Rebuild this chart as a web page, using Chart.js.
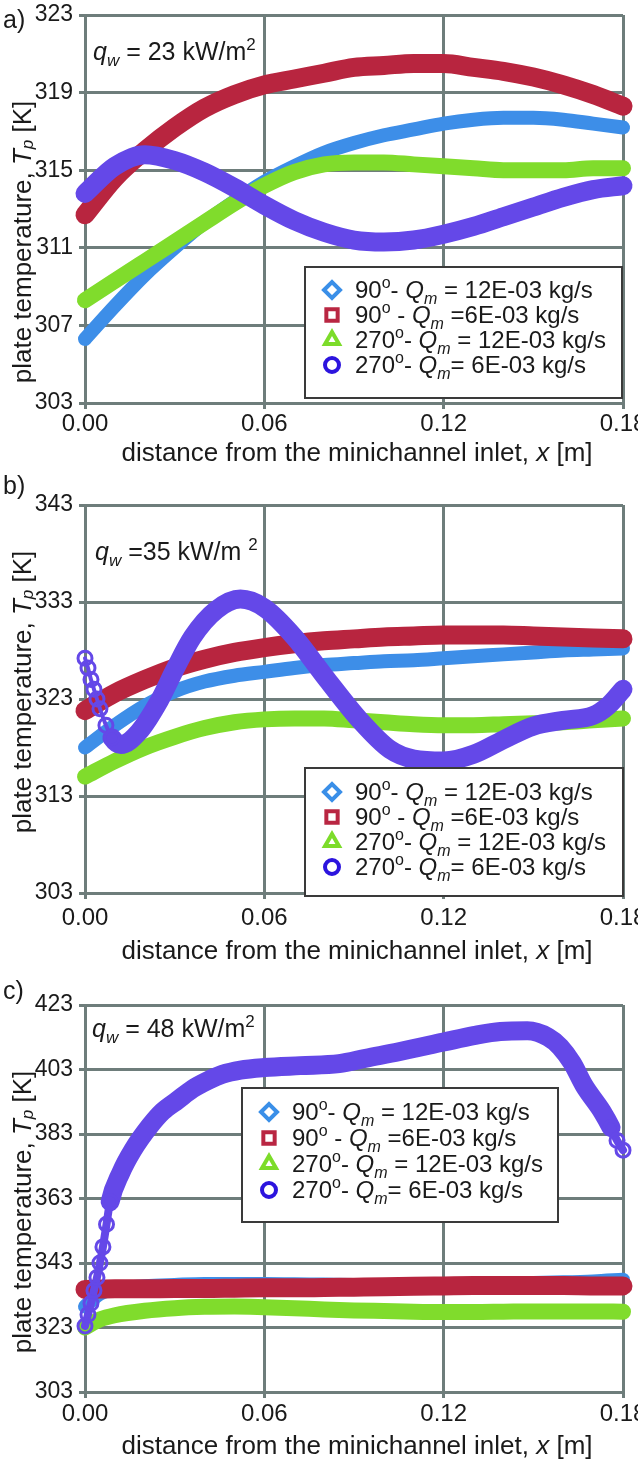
<!DOCTYPE html>
<html>
<head>
<meta charset="utf-8">
<script src="https://cdn.jsdelivr.net/npm/chart.js@4.4.1/dist/chart.umd.min.js"></script>
<style>
body { margin: 0; background: #fff; }
#wrap { position: relative; width: 638px; height: 1460px; }
canvas { position: absolute; left: 0; }
</style>
</head>
<body>
<div id="wrap">
  <canvas id="chartA" width="638" height="470" style="top:0px"></canvas>
  <canvas id="chartB" width="638" height="505" style="top:470px"></canvas>
  <canvas id="chartC" width="638" height="485" style="top:975px"></canvas>
</div>
<script>
// ---- data ----
const xTicks = [0, 0.06, 0.12, 0.18];
const yTicksA = [303, 307, 311, 315, 319, 323];
const yTicksB = [303, 313, 323, 333, 343];
const yTicksC = [303, 323, 343, 363, 383, 403, 423];

// a) qw = 23 kW/m2
const xA = [0, 0.01, 0.02, 0.03, 0.04, 0.05, 0.06, 0.07, 0.08, 0.09, 0.10, 0.11, 0.12, 0.13, 0.14, 0.15, 0.16, 0.17, 0.18];
const aBlue   = [306.3, 308.0, 309.6, 311.0, 312.3, 313.4, 314.4, 315.2, 315.9, 316.4, 316.8, 317.1, 317.4, 317.6, 317.7, 317.7, 317.6, 317.4, 317.2];
const aRed    = [312.7, 314.6, 316.0, 317.2, 318.2, 318.9, 319.4, 319.7, 320.0, 320.3, 320.4, 320.5, 320.5, 320.3, 320.1, 319.8, 319.4, 318.9, 318.3];
const aGreen  = [308.3, 309.3, 310.3, 311.3, 312.3, 313.3, 314.2, 314.9, 315.3, 315.4, 315.4, 315.3, 315.2, 315.1, 315.0, 315.0, 315.0, 315.1, 315.1];
const aPurple = [313.8, 315.2, 315.8, 315.5, 314.9, 314.1, 313.2, 312.4, 311.8, 311.4, 311.3, 311.4, 311.7, 312.1, 312.6, 313.1, 313.6, 314.0, 314.2];

// b) qw = 35 kW/m2
const xB = [0, 0.01, 0.02, 0.03, 0.04, 0.05, 0.06, 0.07, 0.08, 0.09, 0.10, 0.11, 0.12, 0.13, 0.14, 0.15, 0.16, 0.17, 0.18];
const bBlue  = [318.0, 320.3, 322.3, 323.8, 324.8, 325.4, 325.8, 326.2, 326.5, 326.7, 326.9, 327.0, 327.2, 327.4, 327.6, 327.8, 328.0, 328.1, 328.2];
const bRed   = [321.8, 323.6, 325.0, 326.2, 327.1, 327.8, 328.3, 328.7, 329.0, 329.2, 329.4, 329.5, 329.6, 329.6, 329.6, 329.5, 329.4, 329.3, 329.2];
const bGreen = [315.0, 316.6, 318.0, 319.1, 320.0, 320.6, 320.9, 321.0, 321.0, 320.8, 320.6, 320.4, 320.3, 320.3, 320.4, 320.5, 320.6, 320.8, 321.0];
const xBPurple = [0, 0.001, 0.002, 0.003, 0.004, 0.005, 0.007, 0.009, 0.012, 0.018, 0.025, 0.03, 0.036, 0.044, 0.052, 0.06, 0.07, 0.081, 0.092, 0.102, 0.11, 0.12, 0.13, 0.14, 0.15, 0.16, 0.17, 0.175, 0.18];
const bPurple  = [327.2, 326.2, 325.0, 324.0, 323.0, 322.0, 320.3, 319.0, 318.3, 319.6, 322.9, 326.0, 329.4, 332.2, 333.3, 332.4, 329.4, 325.0, 320.8, 317.8, 316.8, 316.6, 317.3, 318.8, 320.2, 320.8, 321.3, 322.3, 324.0];

// c) qw = 48 kW/m2
const xC = [0, 0.005, 0.01, 0.02, 0.03, 0.04, 0.05, 0.06, 0.07, 0.08, 0.09, 0.10, 0.11, 0.12, 0.13, 0.14, 0.15, 0.16, 0.17, 0.18];
const cBlue  = [329.5, 333.5, 335.0, 335.8, 336.2, 336.5, 336.5, 336.5, 336.4, 336.3, 336.2, 336.0, 336.0, 336.2, 336.4, 336.6, 336.8, 337.0, 337.3, 337.8];
const cRed   = [334.8, 334.9, 335.0, 335.0, 335.1, 335.1, 335.2, 335.3, 335.3, 335.4, 335.5, 335.6, 335.8, 335.9, 336.0, 336.0, 336.0, 336.0, 335.9, 335.9];
const cGreen = [323.0, 325.5, 326.8, 328.2, 329.0, 329.4, 329.5, 329.3, 329.0, 328.6, 328.3, 328.1, 327.9, 327.8, 327.8, 327.9, 328.0, 328.0, 328.0, 327.9];
const xCPurple = [0, 0.001, 0.002, 0.003, 0.004, 0.005, 0.006, 0.0072, 0.0084, 0.012, 0.016, 0.0217, 0.026, 0.031, 0.036, 0.041, 0.046, 0.052, 0.06, 0.072, 0.085, 0.094, 0.105, 0.12, 0.13, 0.139, 0.148, 0.155, 0.159, 0.163, 0.167, 0.173, 0.176, 0.178, 0.18];
const cPurple  = [323.5, 327.0, 330.5, 334.5, 338.5, 343.0, 348.0, 355.0, 362.0, 371.0, 378.0, 385.5, 390.0, 393.5, 397.0, 399.5, 401.5, 402.8, 403.6, 404.2, 404.8, 406.5, 408.5, 411.5, 413.5, 414.8, 415.0, 413.0, 410.0, 405.0, 398.0, 390.0, 385.0, 381.0, 378.0];

// legend texts (rich parts: it = italic, sub/sup)
const legendLabels = [
  [{t: '90'}, {t: 'o', sup: true}, {t: '- '}, {t: 'Q', it: true}, {t: 'm', it: true, sub: true}, {t: ' = 12E-03 kg/s'}],
  [{t: '90'}, {t: 'o', sup: true}, {t: ' - '}, {t: 'Q', it: true}, {t: 'm', it: true, sub: true}, {t: ' =6E-03 kg/s'}],
  [{t: '270'}, {t: 'o', sup: true}, {t: '- '}, {t: 'Q', it: true}, {t: 'm', it: true, sub: true}, {t: ' = 12E-03 kg/s'}],
  [{t: '270'}, {t: 'o', sup: true}, {t: '- '}, {t: 'Q', it: true}, {t: 'm', it: true, sub: true}, {t: '= 6E-03 kg/s'}]
];
const notes = [
  [{t: 'q', it: true}, {t: 'w', it: true, sub: true}, {t: ' = 23 kW/m'}, {t: '2', sup: true}],
  [{t: 'q', it: true}, {t: 'w', it: true, sub: true}, {t: ' =35 kW/m '}, {t: '2', sup: true}],
  [{t: 'q', it: true}, {t: 'w', it: true, sub: true}, {t: ' = 48 kW/m'}, {t: '2', sup: true}]
];
const xTitle = [{t: 'distance from the minichannel inlet, '}, {t: 'x', it: true}, {t: ' [m]'}];
const yTitle = [{t: 'plate temperature, '}, {t: 'T', it: true}, {t: 'p', it: true, sub: true}, {t: ' [K]'}];

// ---- styling ----
const lineColors = ['#3d8ee8', '#b8253f', '#80dc2c', '#6448e8'];
const markColors = ['#3a8fe8', '#b92642', '#7cdc2a', '#2c14de'];
const markStyles = ['rectRot', 'rect', 'triangle', 'circle'];
const lineWidths = [14, 19, 16, 19];
const gridColor = '#6e7d7b';
const FONT = '"Liberation Sans", Arial, sans-serif';

function partFont(p, size) {
  const s = (p.sub || p.sup) ? Math.round(size * 0.66) : size;
  return (p.it ? 'italic ' : '') + s + 'px ' + FONT;
}
function richWidth(ctx, parts, size) {
  let w = 0;
  parts.forEach(p => { ctx.font = partFont(p, size); w += ctx.measureText(p.t).width; });
  return w;
}
function drawRich(ctx, parts, x, y, size, center, subDy) {
  let cx = center ? x - richWidth(ctx, parts, size) / 2 : x;
  ctx.textBaseline = 'alphabetic';
  ctx.textAlign = 'left';
  parts.forEach(p => {
    ctx.font = partFont(p, size);
    const dy = p.sub ? size * (subDy || 0.25) : (p.sup ? -size * 0.42 : 0);
    ctx.fillText(p.t, cx, y + dy);
    cx += ctx.measureText(p.t).width;
  });
}

const decor = {
  id: 'decor',
  afterDatasetsDraw(chart, args, o) {
    const ctx = chart.ctx;
    ctx.save();
    ctx.fillStyle = '#1a1a1a';
    // panel letter
    ctx.font = '25px ' + FONT;
    ctx.textBaseline = 'alphabetic';
    ctx.fillText(o.letter, 3, o.letterY);
    // heat flux note
    drawRich(ctx, o.note, o.noteX, o.noteY, 25, false);
    // axis titles
    drawRich(ctx, xTitle, 357, o.xTitleY, 26, true);
    ctx.save();
    ctx.translate(31, o.yTitleY);
    ctx.rotate(-Math.PI / 2);
    drawRich(ctx, yTitle, 0, 0, 26, true, 0.08);
    ctx.restore();
    // legend box
    const L = o.legend;
    ctx.fillStyle = '#fff';
    ctx.fillRect(L.x, L.y, L.w, L.h);
    ctx.strokeStyle = '#3a3a3a';
    ctx.lineWidth = 2;
    ctx.strokeRect(L.x, L.y, L.w, L.h);
    legendLabels.forEach((parts, i) => {
      const cy = L.y + L.first + i * L.step;
      ctx.strokeStyle = markColors[i];
      ctx.fillStyle = '#fff';
      ctx.lineWidth = 4;
      Chart.helpers.drawPoint(ctx, {pointStyle: markStyles[i], radius: i === 3 ? 7 : 8, rotation: 0, borderWidth: 4}, L.x + 27, cy);
      ctx.fillStyle = '#1a1a1a';
      drawRich(ctx, parts, L.x + 50, cy + 8, 24, false);
    });
    ctx.restore();
  }
};

function makeSeries(xs, ys, i, pts, thin) {
  return {
    data: xs.map((x, j) => ({x: x, y: ys[j]})),
    borderColor: lineColors[i],
    backgroundColor: '#fff',
    borderWidth: lineWidths[i],
    borderCapStyle: 'round',
    borderJoinStyle: 'round',
    cubicInterpolationMode: 'monotone',
    pointRadius: pts ? (c => pts.includes(c.dataIndex) ? 7 : 0) : 0,
    pointBorderWidth: 3,
    pointBorderColor: lineColors[i],
    pointBackgroundColor: 'rgba(255,255,255,0)',
    segment: pts ? {borderWidth: c => (pts.includes(c.p0DataIndex) && pts.includes(c.p1DataIndex)) ? thin : lineWidths[i]} : undefined,
    order: [4, 3, 2, 1][i],
    clip: false
  };
}

function makeChart(id, datasets, yTicks, p) {
  new Chart(document.getElementById(id), {
    type: 'line',
    data: {datasets: datasets},
    plugins: [decor],
    options: {
      responsive: false,
      animation: false,
      events: [],
      layout: {padding: {top: p.top, right: 15, left: 0, bottom: 0}},
      plugins: {legend: {display: false}, tooltip: {enabled: false}, decor: p.decor},
      scales: {
        x: {
          type: 'linear', min: 0, max: 0.18,
          afterBuildTicks: s => { s.ticks = xTicks.map(v => ({value: v})); },
          afterFit: s => { s.height = p.xh; s.paddingLeft = 0; s.paddingRight = 0; },
          ticks: {callback: v => v.toFixed(2), color: '#1a1a1a', font: {family: FONT, size: 24}, padding: p.tp, maxRotation: 0},
          grid: {color: gridColor, lineWidth: 3, tickLength: 6},
          border: {color: gridColor, width: 3}
        },
        y: {
          type: 'linear', min: yTicks[0], max: yTicks[yTicks.length - 1],
          afterBuildTicks: s => { s.ticks = yTicks.map(v => ({value: v})); },
          afterFit: s => { s.width = 85; s.paddingTop = 0; s.paddingBottom = 0; },
          ticks: {callback: v => String(v), color: '#1a1a1a', font: {family: FONT, size: 23}, padding: 6},
          grid: {color: gridColor, lineWidth: 3, tickLength: 6},
          border: {color: gridColor, width: 3}
        }
      }
    }
  });
}

makeChart('chartA', [
  makeSeries(xA, aBlue, 0), makeSeries(xA, aRed, 1), makeSeries(xA, aGreen, 2), makeSeries(xA, aPurple, 3)
], yTicksA, {top: 15, xh: 67, tp: 1, decor: {
  letter: 'a)', letterY: 28, note: notes[0], noteX: 93, noteY: 60, xTitleY: 461, yTitleY: 242,
  legend: {x: 305, y: 267, w: 317, h: 131, first: 23, step: 25}
}});

makeChart('chartB', [
  makeSeries(xB, bBlue, 0), makeSeries(xB, bRed, 1), makeSeries(xB, bGreen, 2),
  makeSeries(xBPurple, bPurple, 3, [0, 1, 2, 3, 4, 5, 6, 7], 4)
], yTicksB, {top: 35, xh: 82, tp: 5, decor: {
  letter: 'b)', letterY: 24, note: notes[1], noteX: 95, noteY: 90, xTitleY: 489, yTitleY: 222,
  legend: {x: 305, y: 298, w: 318, h: 128, first: 24, step: 25}
}});

makeChart('chartC', [
  makeSeries(xC, cBlue, 0), makeSeries(xC, cRed, 1), makeSeries(xC, cGreen, 2),
  makeSeries(xCPurple, cPurple, 3, [0, 1, 2, 3, 4, 5, 6, 7, 8, 32, 33, 34], 8)
], yTicksC, {top: 30, xh: 68, tp: 2, decor: {
  letter: 'c)', letterY: 24, note: notes[2], noteX: 92, noteY: 62, xTitleY: 479, yTitleY: 237,
  legend: {x: 242, y: 113, w: 316, h: 134, first: 24, step: 26}
}});
</script>
</body>
</html>
